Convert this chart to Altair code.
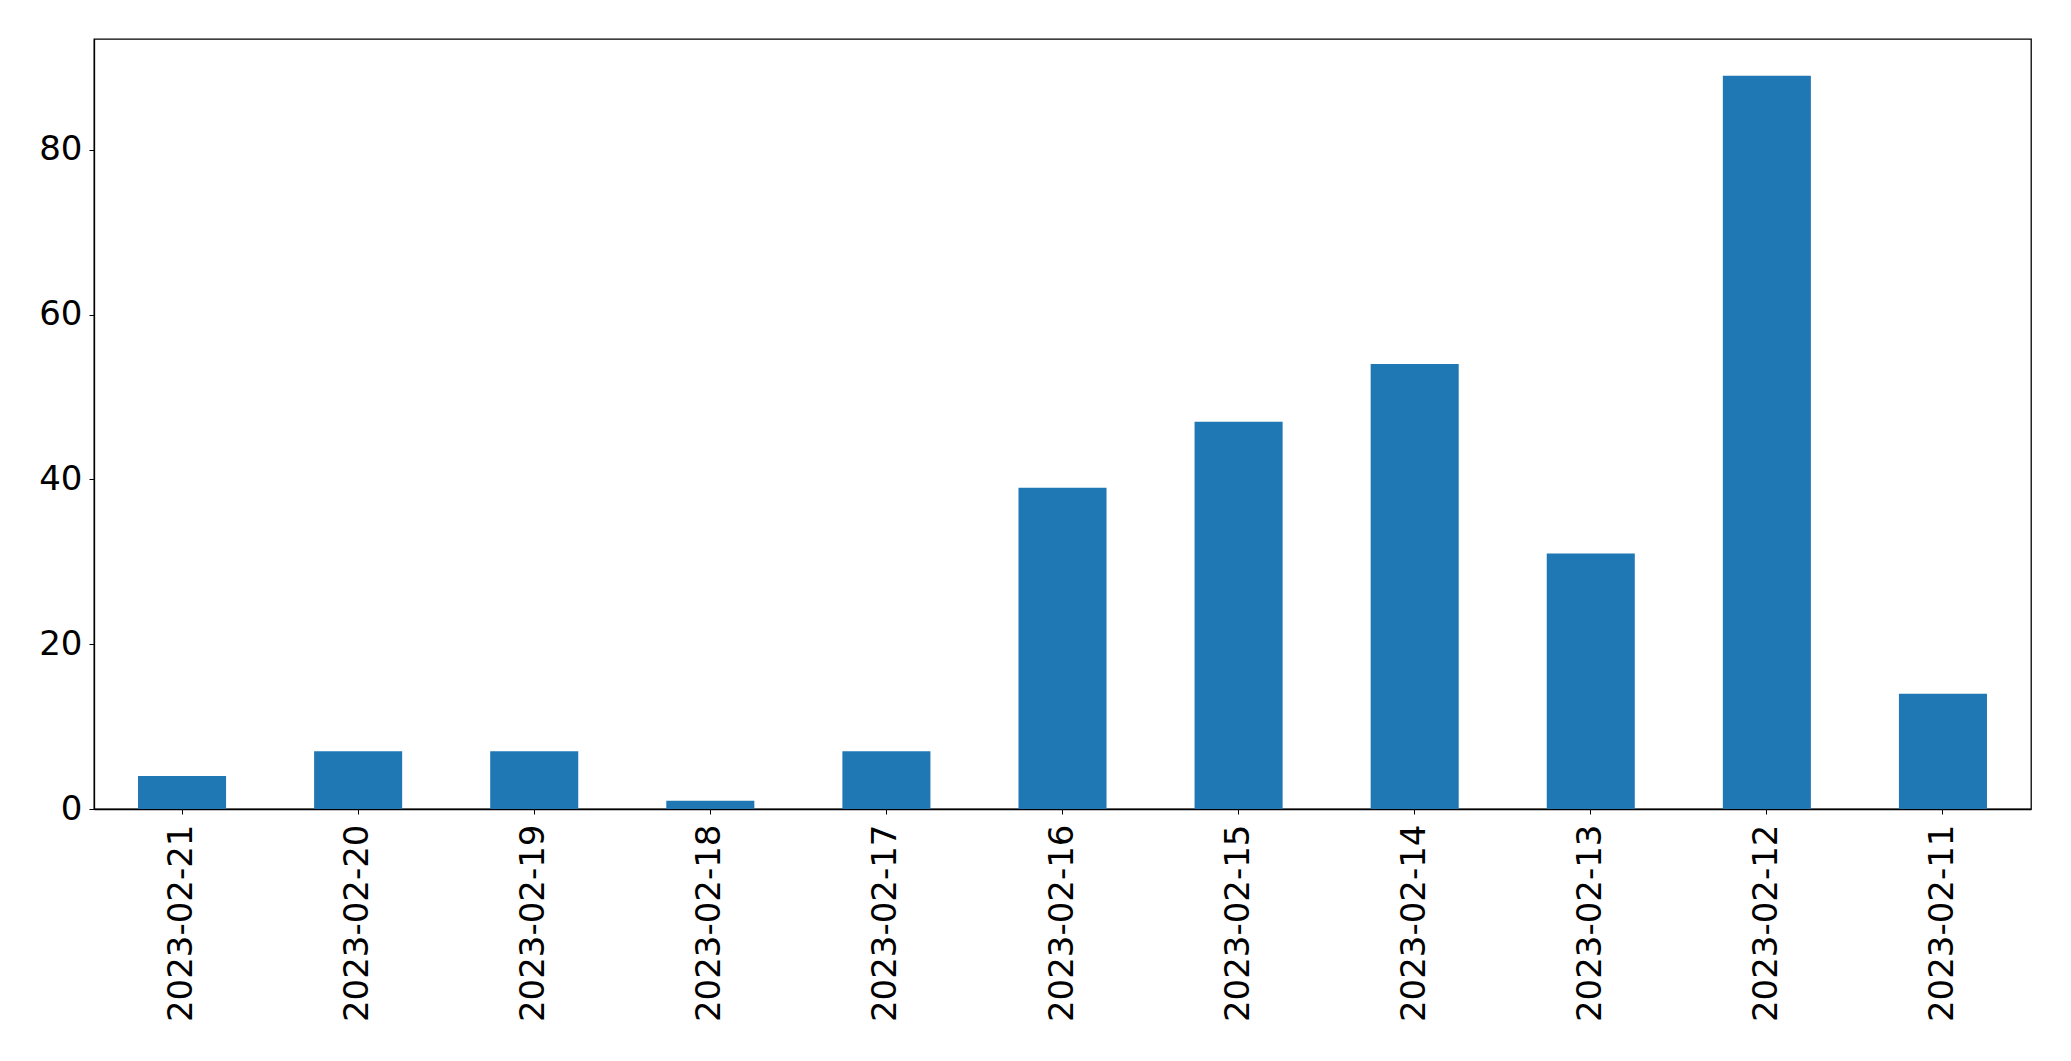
import altair as alt
import pandas as pd

dates = ["2023-02-21", "2023-02-20", "2023-02-19", "2023-02-18", "2023-02-17",
         "2023-02-16", "2023-02-15", "2023-02-14", "2023-02-13", "2023-02-12", "2023-02-11"]
counts = [4, 7, 7, 1, 7, 39, 47, 54, 31, 89, 14]
y_ticks = [0, 20, 40, 60, 80]

df = pd.DataFrame({"date": dates, "count": counts})

FONT = "DejaVu Sans"
FS = 34

chart = alt.Chart(df).mark_bar(color="#1f77b4").encode(
    x=alt.X("date:N", sort=dates, title=None,
            scale=alt.Scale(paddingInner=0.5, paddingOuter=0.25),
            axis=alt.Axis(labelAngle=-90, labelAlign="right", labelBaseline="middle",
                          labelFont=FONT, labelFontSize=FS, labelColor="black",
                          labelLimit=0, labelOverlap=False,
                          labelPadding=10, tickSize=5, tickColor="black",
                          domainColor="black", domainWidth=1.3, grid=False)),
    y=alt.Y("count:Q", title=None,
            scale=alt.Scale(domain=[0, 93.45], nice=False, zero=True),
            axis=alt.Axis(values=y_ticks, labelFont=FONT, labelFontSize=FS,
                          labelColor="black", labelPadding=7, tickSize=5,
                          tickColor="black", domainColor="black", domainWidth=1.3,
                          grid=False)),
).properties(
    width=1937, height=770,
    autosize=alt.AutoSizeParams(type="none"),
    padding={"left": 86, "top": 31, "right": 32, "bottom": 244},
    background="white",
).configure_view(
    stroke="black", strokeWidth=1.3
)

chart.save("out.html", embed_options={"renderer": "svg", "actions": False})
